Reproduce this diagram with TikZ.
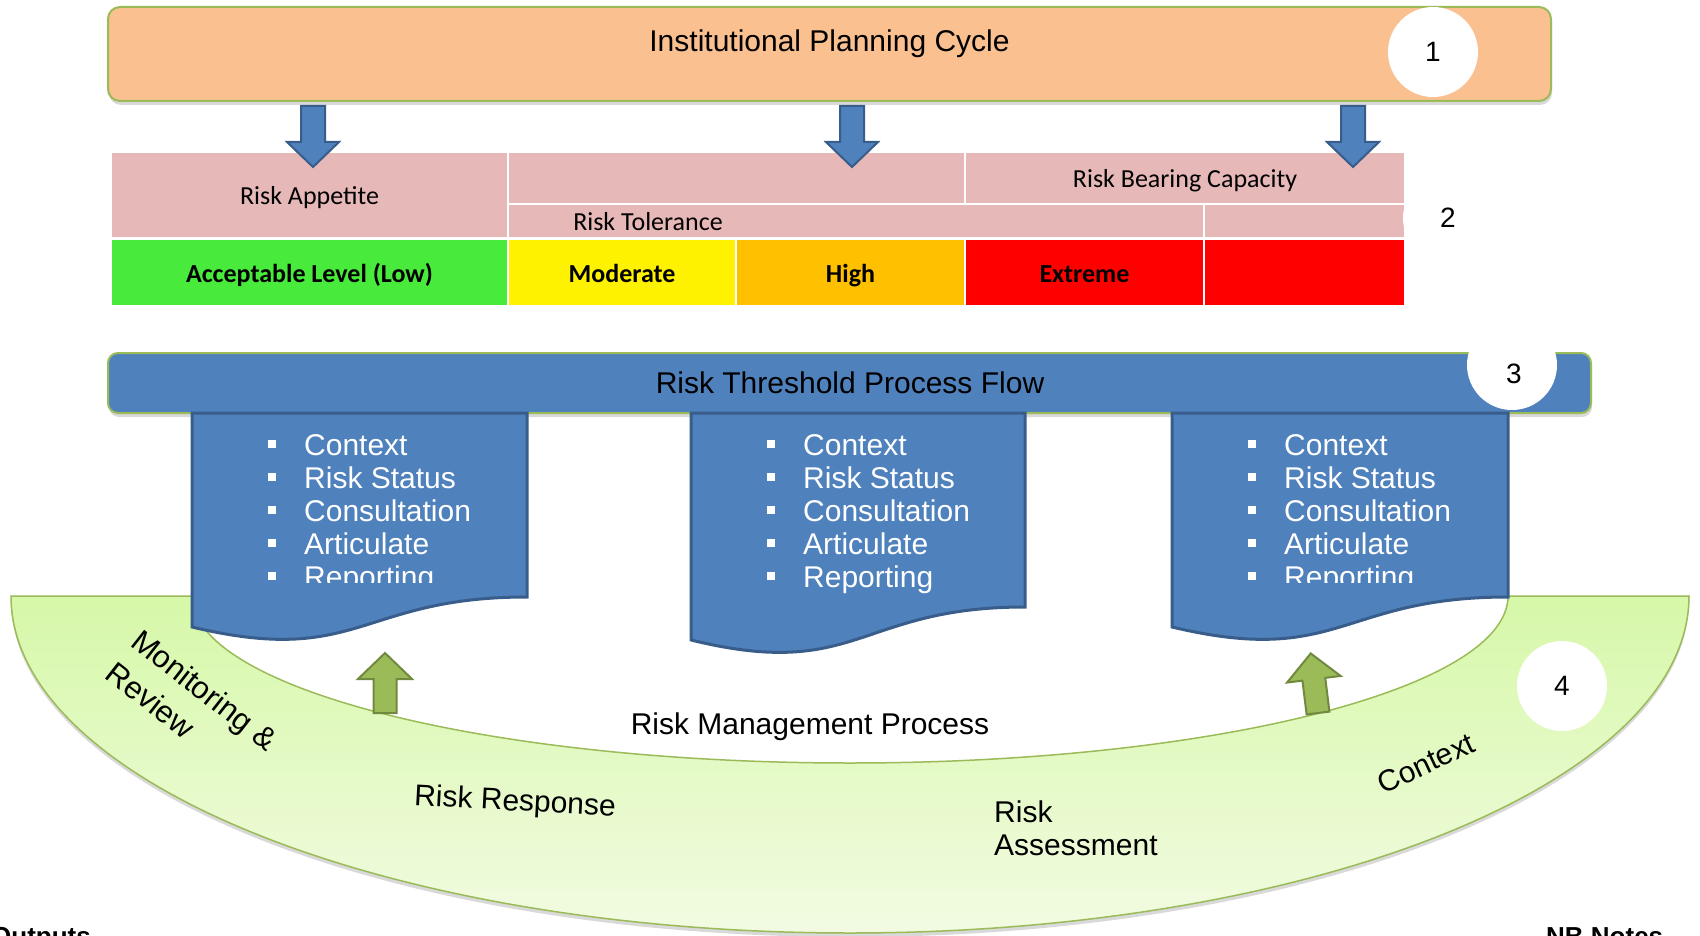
\documentclass[tikz,border=0pt]{standalone}
\usepackage{fontspec}
\setmainfont{Liberation Sans}
\newfontfamily\calibri{Carlito}
\usepackage{tikz}
\usetikzlibrary{shadows}

\definecolor{peach}{RGB}{250,192,144}
\definecolor{verdeborde}{RGB}{155,187,89}
\definecolor{azul}{RGB}{79,129,189}
\definecolor{azuloscuro}{RGB}{56,93,138}
\definecolor{rosa}{RGB}{230,185,184}
\definecolor{verde}{RGB}{72,235,60}
\definecolor{naranja}{RGB}{255,192,0}
\definecolor{verdeflechaborde}{RGB}{113,137,63}
\definecolor{bandaarriba}{RGB}{214,248,168}
\definecolor{bandaabajo}{RGB}{242,251,226}

\begin{document}
\begin{tikzpicture}
	[x=1pt,y=-1pt,
	caja/.style={draw=verdeborde,line width=2pt,rounded corners=12pt,
		drop shadow={shadow xshift=1pt,shadow yshift=-4pt,opacity=0.3}},
	circ/.style={circle,fill=white,inner sep=0pt,minimum size=90pt,
		font=\fontsize{28}{30}\selectfont},
	cell/.style={draw=white,line width=2pt,inner sep=0pt,text height=20pt,text depth=0pt,
		font=\calibri\fontsize{26}{28}\selectfont},
	cell1/.style={cell,font=\calibri\bfseries\fontsize{26}{28}\selectfont},
	texto/.style={inner sep=0pt,font=\fontsize{30}{33}\selectfont},
	item/.style={inner sep=0pt,anchor=base west,text=white,
		font=\fontsize{30}{33}\selectfont},
	flecha/.style={fill=azul,draw=azuloscuro,line width=2pt},
	flecha1/.style={fill=verdeborde,draw=verdeflechaborde,line width=2pt}]
\useasboundingbox (0,0) rectangle (1700,936);
%caja superior
\draw[caja,fill=peach] (108,7) rectangle (1551,101);
\node[texto] (ipc) at (829.5,43.5) {Institutional Planning Cycle};
\node[circ] (uno) at (1433,52) {1};

%tabla
\node[cell,fill=rosa,minimum width=397pt,minimum height=86pt] (apetito) at (309.5,195) {Risk Appetite};
\node[cell,fill=rosa,minimum width=457pt,minimum height=52pt] (vacia) at (736.5,178) {};
\node[cell,fill=rosa,minimum width=440pt,minimum height=52pt] (capacidad) at (1185,178) {Risk Bearing Capacity};
\node[cell,fill=rosa,minimum width=696pt,minimum height=34pt] (tolerancia) at (856,221) {};
\node[cell,fill=rosa,minimum width=201pt,minimum height=34pt] (vacia1) at (1304.5,221) {};
\node[cell,draw=none] (tol) at (648,221) {Risk Tolerance};
\foreach \xa/\xb/\col/\txt [count=\i] in {111/508/verde/{Acceptable Level (Low)},
	508/736/yellow/Moderate,736/965/naranja/High,965/1204/red/Extreme,1204/1405/red/{}}
	\node[cell1,fill=\col,minimum width={(\xb-\xa)*1pt},minimum height=67pt] (nivel\i) at ({(\xa+\xb)/2},272.5) {\txt};
\node[circ] (dos) at (1448,218) {2};

%flechas azules
\foreach \x in {313,852,1353}
	\draw[flecha] (\x-12,106) -- (\x+12,106) -- (\x+12,142) -- (\x+26,142) -- (\x,167)
	-- (\x-26,142) -- (\x-12,142) -- cycle;

%barra azul
\draw[caja,fill=azul,rounded corners=10pt] (108,353) rectangle (1591,413);
\node[texto] (rtpf) at (850,383) {Risk Threshold Process Flow};
\node[circ] (tres) at (1512,365) {};
\node[circ,fill=none,minimum size=0pt] (tres1) at (1514,374) {3};

%banda verde
\draw[draw=verdeborde,line width=1.5pt,top color=bandaarriba,bottom color=bandaabajo,
	drop shadow={shadow xshift=0pt,shadow yshift=-4pt,opacity=0.3}]
(11,596) arc[start angle=180,end angle=0,x radius=839,y radius=337]
-- (1508,596) arc[start angle=0,end angle=180,x radius=658,y radius=167] -- cycle;
\node[circ] (cuatro) at (1562,686) {4};

%documentos
\foreach \xa/\xb/\yr/\yl/\yc/\yk [count=\i] in {192/527/597/627/667/582,
	691/1025/607/640/681/640,1172/1508/597/627/667/582}{
	\draw[fill=azul,draw=azuloscuro,line width=3pt] (\xa,413) -- (\xb,413) -- (\xb,\yr)
	.. controls ({(\xa+\xb)/2},\yr) and ({(\xa+\xb)/2},\yc) .. (\xa,\yl) -- cycle;
	\begin{scope}
		\clip (\xa,413) rectangle (\xb,\yk);
		\foreach \txt [count=\j] in {Context,Risk Status,Consultation,Articulate,Reporting}{
			\fill[white] (\xa+76,{440+33*(\j-1)}) rectangle +(8,8);
			\node[item] (doc\i item\j) at (\xa+112,{455+33*(\j-1)}) {\txt};
		}
	\end{scope}
}

%flechas verdes
\foreach \x/\a in {385/0,1318/7}
	\draw[flecha1,rotate around={\a:(\x,713)}] (\x-11.5,713) -- (\x+11.5,713) -- (\x+11.5,679)
	-- (\x+27,679) -- (\x,653) -- (\x-27,679) -- (\x-11.5,679) -- cycle;

%textos de la banda
\node[texto] (rmp) at (810,726.5) {Risk Management Process};
\node[texto,rotate=-3] (rr) at (515,803) {Risk Response};
\node[texto,align=left,anchor=west] (ra) at (994,828.5) {Risk\\Assessment};
\node[texto,rotate=25] (ctx) at (1426,763) {Context};
\node[texto,rotate=-38,align=left,font=\fontsize{31}{41}\selectfont] (mr) at (192,706) {Monitoring \&\\Review};

%pie
\node[inner sep=0pt,anchor=north west,font=\bfseries\fontsize{26}{26}\selectfont] (outputs) at (-9,927) {Outputs};
\node[inner sep=0pt,anchor=north west,font=\bfseries\fontsize{26}{26}\selectfont] (notas) at (1546,927) {NB Notes};
\end{tikzpicture}
\end{document}
